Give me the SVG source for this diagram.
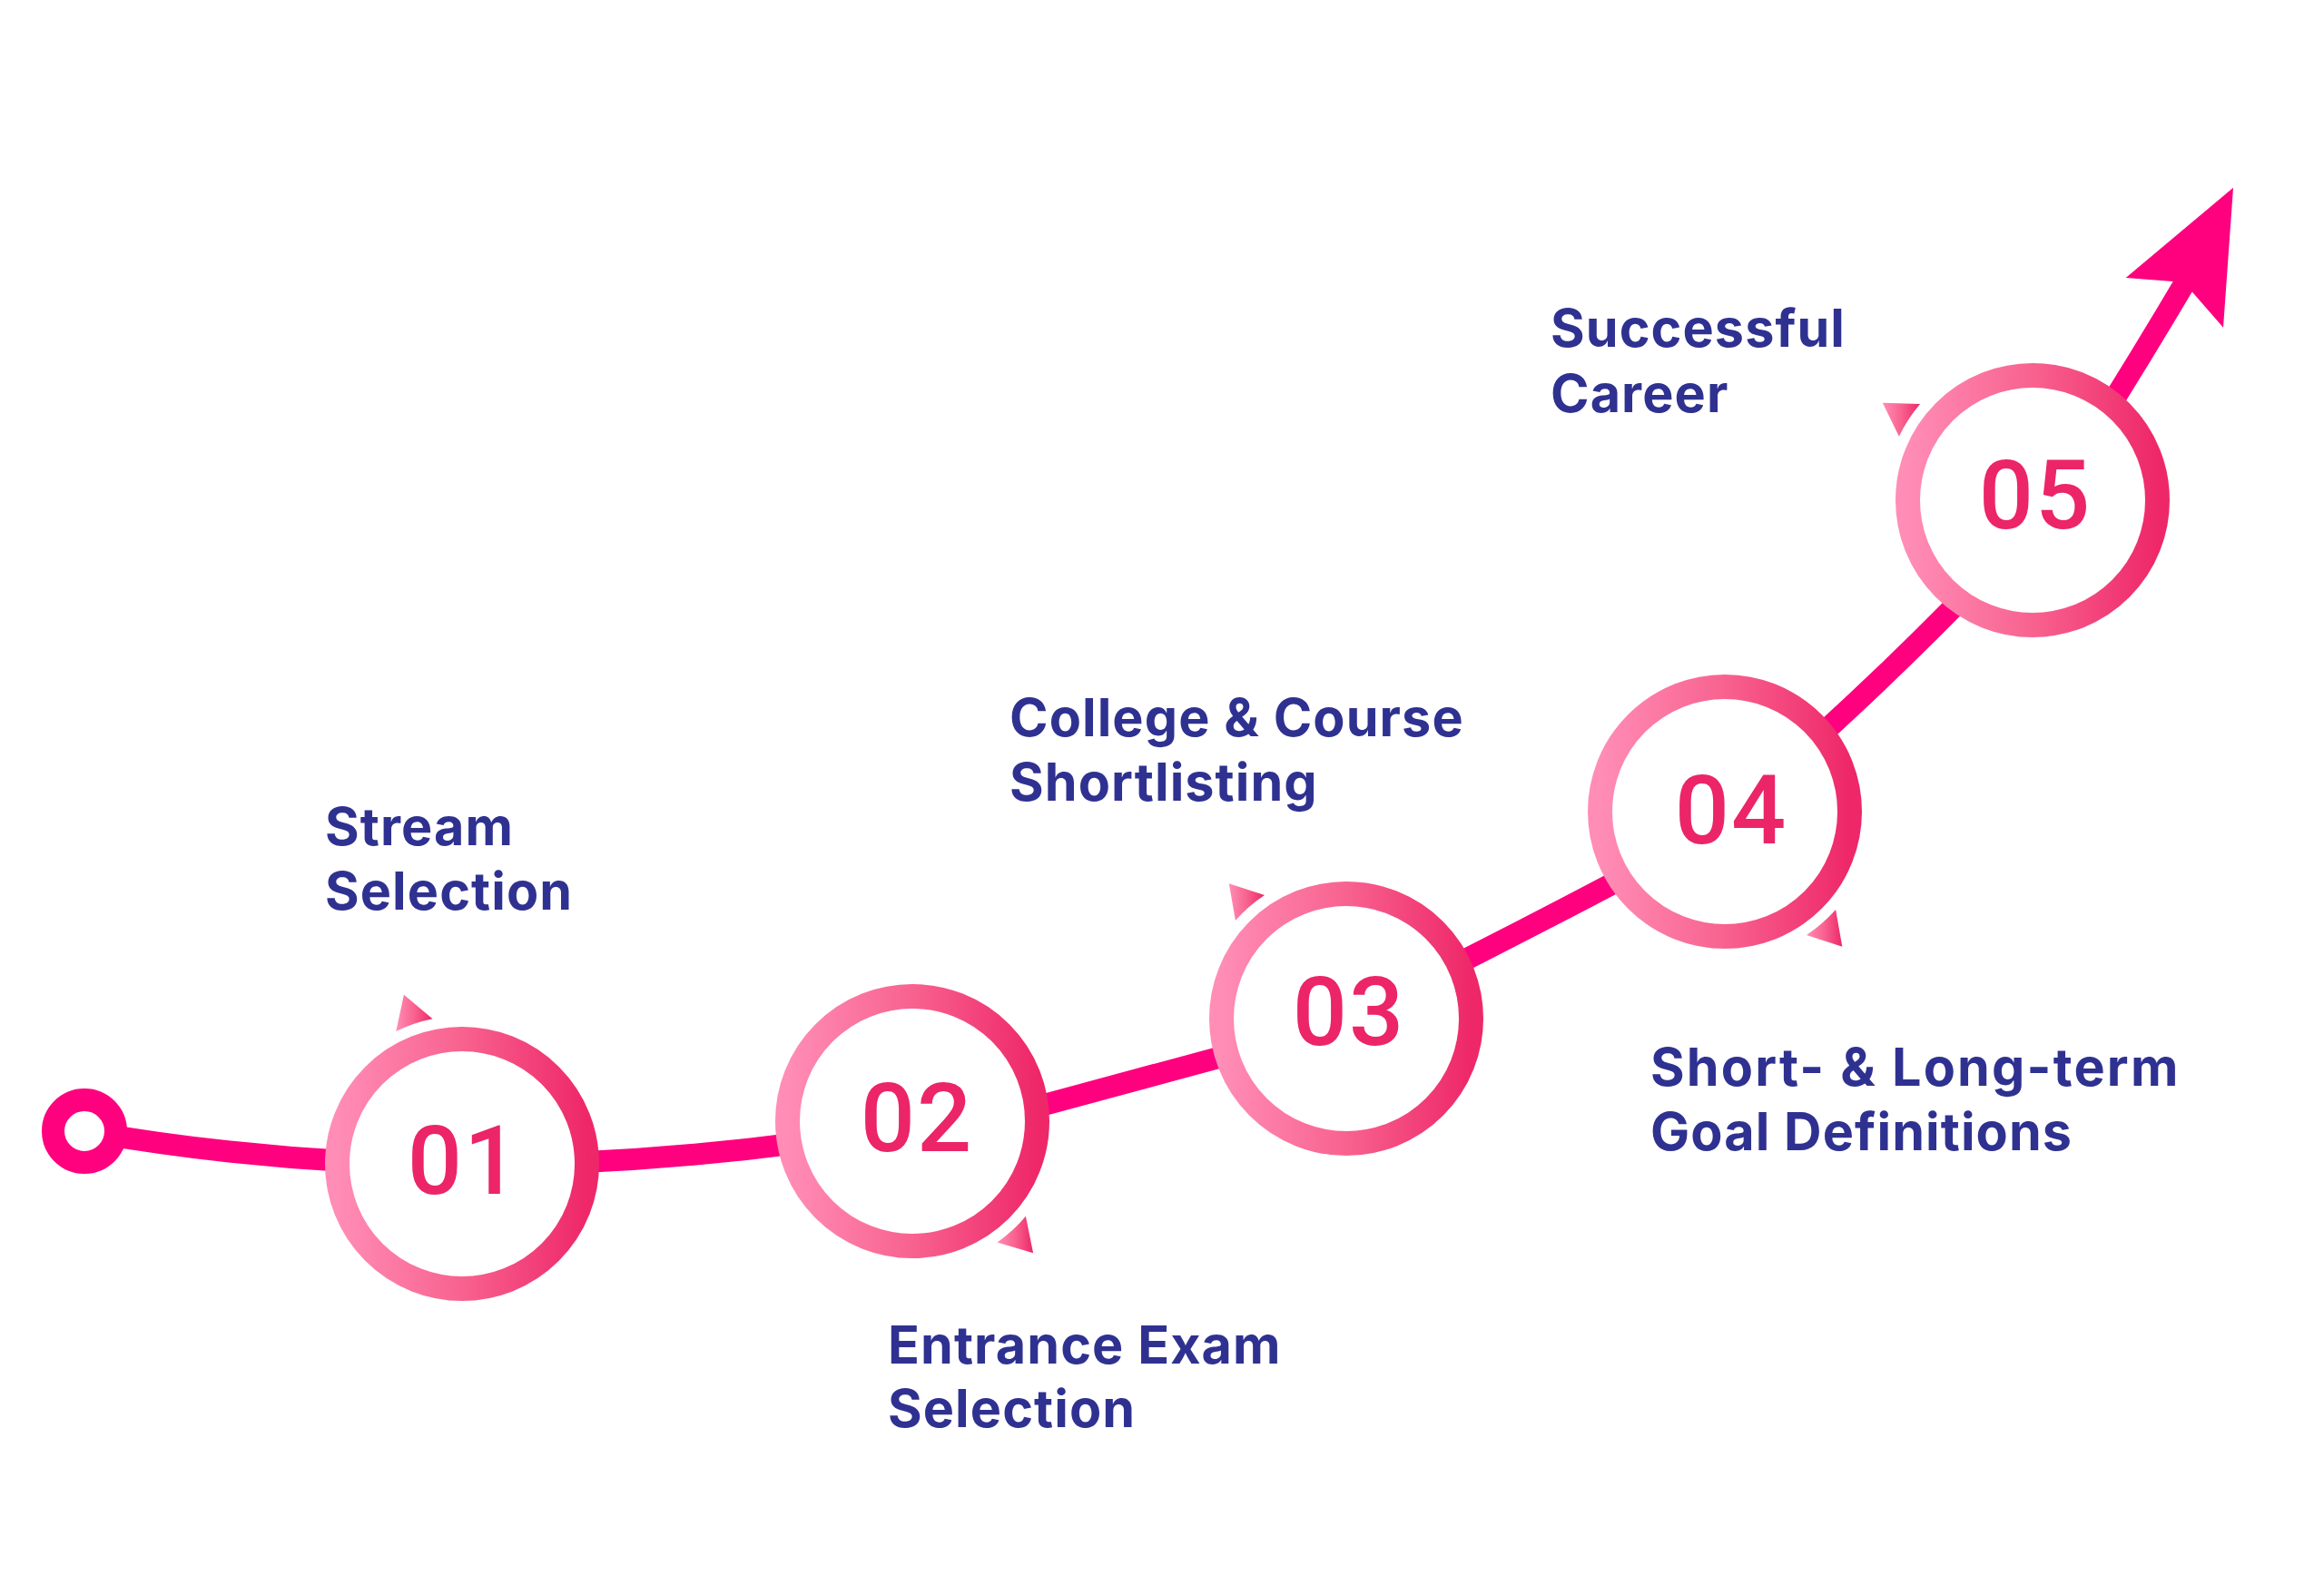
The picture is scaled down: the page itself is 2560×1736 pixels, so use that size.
<svg xmlns="http://www.w3.org/2000/svg" width="2560" height="1736" viewBox="0 0 2560 1736">
  <defs>
    <linearGradient id="ringGrad" x1="0" y1="0" x2="1" y2="0">
      <stop offset="0" stop-color="#FF8DB6"/>
      <stop offset="0.5" stop-color="#F8628F"/>
      <stop offset="1" stop-color="#EE2769"/>
    </linearGradient>
    <style>
      .line { fill: none; stroke: #FF007F; stroke-width: 24; stroke-linecap: butt; }
      .ring { fill: #FFFFFF; stroke: url(#ringGrad); stroke-width: 27; }
      .tri { fill: url(#ringGrad); }
      .num { font-family: Roboto, "Liberation Sans", sans-serif; font-weight: 500; font-size: 106px; fill: #EC2468; text-anchor: middle; letter-spacing: 2px; }
      .label { font-family: Inter, "Liberation Sans", sans-serif; font-weight: 700; font-size: 57.5px; fill: #2F3191; letter-spacing: 1.1px; }
      .wide { letter-spacing: 2.2px; }
    </style>
  </defs>
  <rect width="2560" height="1736" fill="#FFFFFF"/>

  <g id="connectors">
    <path class="line" d="M93,1246 Q300,1282 509,1283"/>
    <path class="line" d="M509,1283 Q750,1284 1005,1240"/>
    <path class="line" d="M1080,1236 L1420,1144"/>
    <path class="line" d="M1545,1092 Q1695,1017 1840,939.5"/>
    <path class="line" d="M1965,846 Q2079,745 2185,635"/>
    <path class="line" d="M2301.7,483.2 Q2358,394 2410,306"/>
    <polygon fill="#FF007F" points="2460,206.7 2449,360.7 2415,321.7 2404,316 2393.3,310 2341.7,306"/>
  </g>

  <g id="start">
    <circle cx="93" cy="1246" r="34.5" fill="#FFFFFF" stroke="#FF007F" stroke-width="25"/>
  </g>

  <g id="node-01">
    <path class="tri" d="M436.3,1136.1 A163,163 0 0 1 476.5,1122.3 L444.9,1095.7 Z"/>
    <circle class="ring" cx="509" cy="1282" r="137.5"/>
    <text class="num" x="511" y="1315">01</text>
    <text class="label" x="358" y="931">Stream</text>
    <text class="label" x="358" y="1002">Selection</text>
  </g>

  <g id="node-02">
    <path class="tri" d="M1129.9,1339.8 A163,163 0 0 1 1098.5,1368.5 L1138.1,1380.2 Z"/>
    <circle class="ring" cx="1005" cy="1235" r="137.5"/>
    <text class="num" x="1010" y="1268">02</text>
    <text class="label" x="978" y="1502">Entrance Exam</text>
    <text class="label" x="978" y="1572">Selection</text>
  </g>

  <g id="node-03">
    <path class="tri" d="M1360.9,1014 A163,163 0 0 1 1393,986.1 L1353.8,973.3 Z"/>
    <circle class="ring" cx="1483" cy="1122" r="137.5"/>
    <text class="num" x="1486" y="1151">03</text>
    <text class="label" x="1112" y="811">College &amp; Course</text>
    <text class="label" x="1112" y="882">Shortlisting</text>
  </g>

  <g id="node-04">
    <path class="tri" d="M2022.1,1002 A163,163 0 0 1 1990,1029.9 L2029.3,1042.7 Z"/>
    <circle class="ring" cx="1900" cy="894" r="137.5"/>
    <text class="num" x="1907" y="929">04</text>
    <text class="label wide" x="1818" y="1196">Short- &amp; Long-term</text>
    <text class="label" x="1818" y="1267">Goal Definitions</text>
  </g>

  <g id="node-05">
    <path class="tri" d="M2091.9,480.8 A163,163 0 0 1 2115.1,445.1 L2073.8,443.7 Z"/>
    <circle class="ring" cx="2239" cy="551" r="137.5"/>
    <text class="num" x="2242" y="582">05</text>
    <text class="label" x="1708" y="382">Successful</text>
    <text class="label" x="1708" y="454">Career</text>
  </g>
</svg>
